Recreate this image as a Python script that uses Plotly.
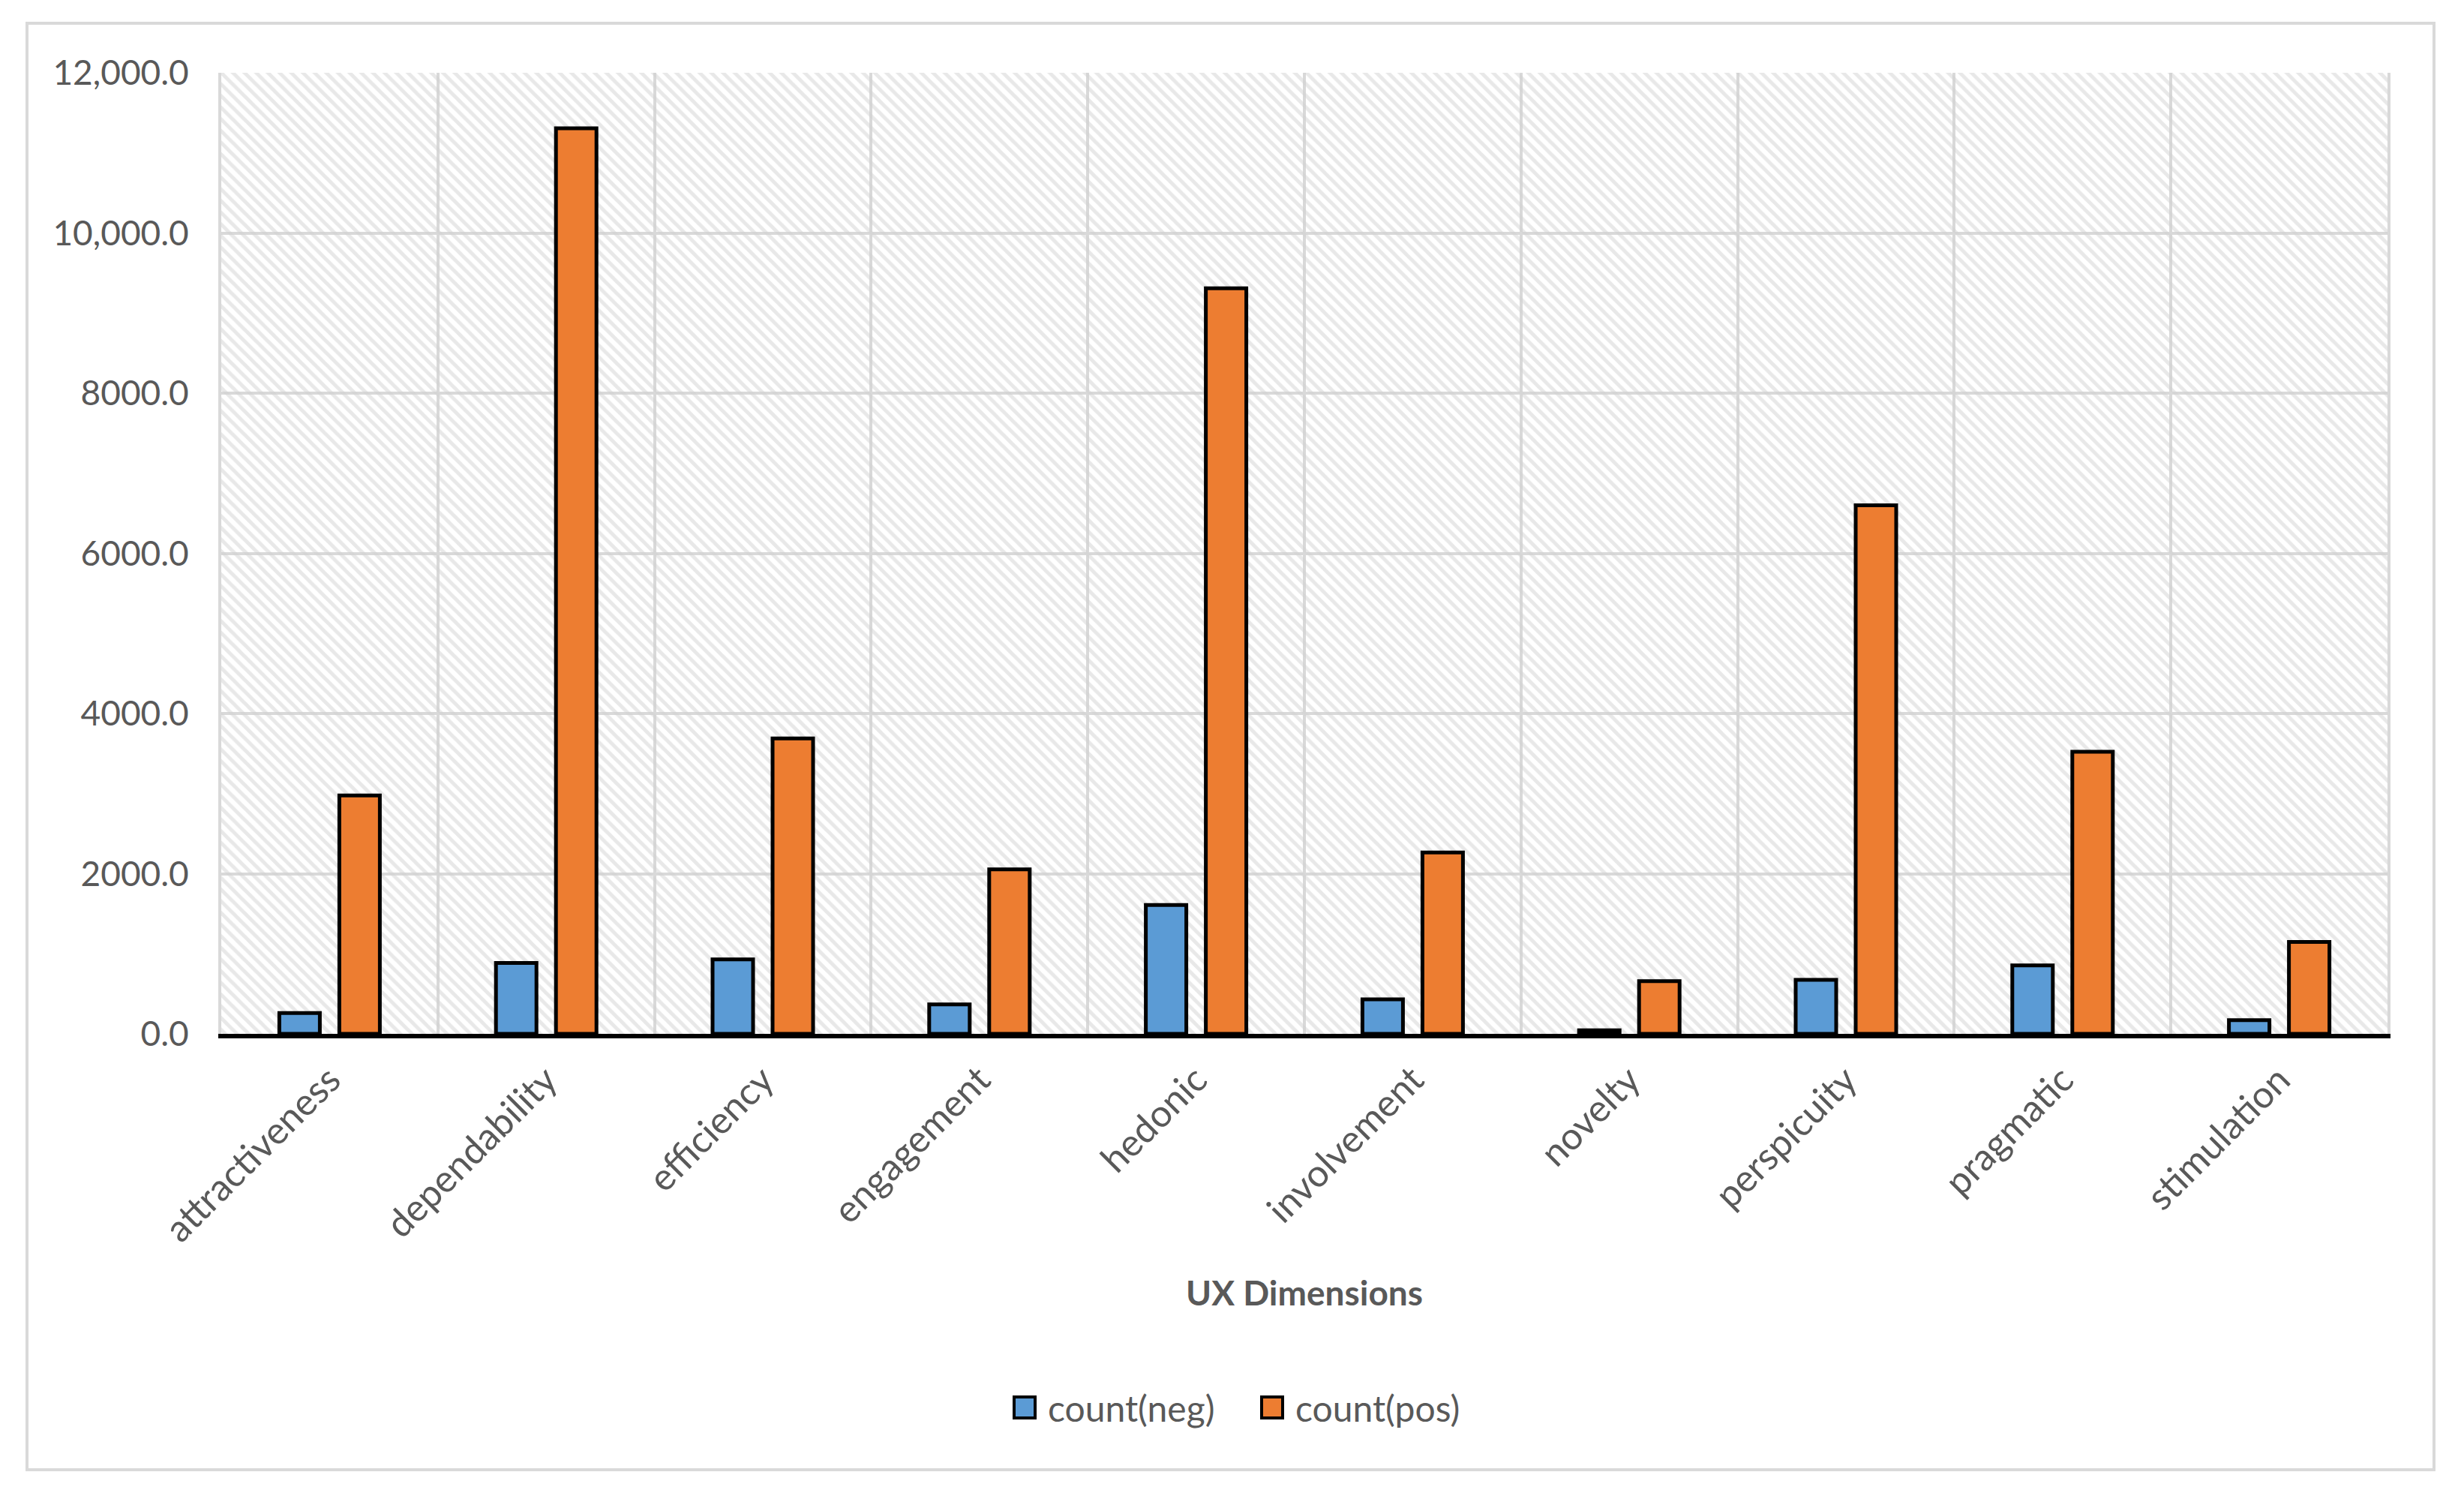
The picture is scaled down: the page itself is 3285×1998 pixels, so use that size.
import plotly.graph_objects as go

# ---- data ----
categories = ["attractiveness", "dependability", "efficiency", "engagement", "hedonic",
              "involvement", "novelty", "perspicuity", "pragmatic", "stimulation"]
count_neg = [260, 885, 930, 368, 1608, 432, 45, 675, 855, 170]
count_pos = [2976, 11306, 3689, 2055, 9310, 2264, 658, 6600, 3523, 1148]
series_names = ["count(neg)", "count(pos)"]
y_tick_values = [0, 2000, 4000, 6000, 8000, 10000, 12000]
y_tick_labels = ["0.0", "2000.0", "4000.0", "6000.0", "8000.0", "10,000.0", "12,000.0"]
x_title = "UX Dimensions"

# ---- style ----
OFF = 8                      # default page body margin
W, H = 3285 - OFF, 1998 - OFF
L, R, T, B = 295 - OFF, 102, 97 - OFF, 620
PW, PH = W - L - R, H - T - B
FONT = "Lato"
TXT = "#595959"
GRID = "#d9d9d9"
C_NEG = "#5B9BD5"
C_POS = "#ED7D31"


def px_x(px):
    """page pixel -> paper x"""
    return (px - OFF - L) / PW


def px_y(py):
    """page pixel -> paper y"""
    return (H - B - (py - OFF)) / PH


fig = go.Figure()

# hatched plot-area background (decoration on an invisible base subplot)
fig.add_trace(go.Bar(
    x=[0.5], y=[1], width=[1], xaxis="x", yaxis="y",
    marker=dict(color="rgba(0,0,0,0)", line=dict(width=0),
                pattern=dict(shape="\\", fgcolor="#d2d2d2", bgcolor="rgba(0,0,0,0)",
                             size=11, solidity=0.45, fillmode="overlay")),
    showlegend=False, hoverinfo="skip"))

colors = [C_NEG, C_POS]
for name, vals, col in zip(series_names, [count_neg, count_pos], colors):
    fig.add_trace(go.Bar(
        x=categories, y=vals, name=name, xaxis="x2", yaxis="y2",
        marker=dict(color=col, line=dict(color="black", width=5)),
        showlegend=False,
    ))

# legend drawn as shapes + text (large swatches as in the reference)
legend_sw_x = [1350, 1680]
legend_txt_x = [1395, 1725]
legend_cy = 1876
shapes = [dict(
    type="rect", xref="paper", yref="paper",
    x0=px_x(36), x1=px_x(3245), y0=px_y(1959), y1=px_y(31),
    line=dict(color=GRID, width=4), fillcolor="rgba(0,0,0,0)", layer="below",
)]
annotations = [dict(
    text="<b>" + x_title + "</b>", xref="paper", yref="paper",
    x=0.5, y=px_y(1722), xanchor="center", yanchor="middle",
    showarrow=False, font=dict(family=FONT, size=46, color=TXT),
)]
for name, col, sx, tx in zip(series_names, colors, legend_sw_x, legend_txt_x):
    shapes.append(dict(
        type="rect", xref="paper", yref="paper",
        x0=px_x(sx + 2), x1=px_x(sx + 30), y0=px_y(legend_cy + 14), y1=px_y(legend_cy - 14),
        line=dict(color="black", width=4), fillcolor=col, layer="above",
    ))
    annotations.append(dict(
        text=name, xref="paper", yref="paper", x=px_x(tx), y=px_y(legend_cy),
        xanchor="left", yanchor="middle", showarrow=False,
        font=dict(family=FONT, size=48, color=TXT),
    ))

fig.update_layout(
    width=W, height=H,
    margin=dict(l=L, r=R, t=T, b=B, autoexpand=False),
    paper_bgcolor="white", plot_bgcolor="white",
    font=dict(family=FONT, size=46, color=TXT),
    barmode="group", bargap=0.446, bargroupgap=0.325,
    showlegend=False,
    xaxis=dict(range=[0, 1], visible=False, fixedrange=True),
    yaxis=dict(range=[0, 1], visible=False, fixedrange=True),
    xaxis2=dict(
        overlaying="x", type="category", range=[-0.5, len(categories) - 0.5],
        tickson="boundaries", showgrid=True, gridcolor=GRID, gridwidth=4,
        showline=True, linecolor="black", linewidth=6,
        ticks="", tickangle=-45, ticklabelstandoff=6,
        tickfont=dict(family=FONT, size=50, color=TXT),
    ),
    yaxis2=dict(
        overlaying="y", range=[0, 12000], tickmode="array",
        tickvals=y_tick_values, ticktext=y_tick_labels,
        showgrid=True, gridcolor=GRID, gridwidth=4, zeroline=False,
        showline=True, linecolor=GRID, linewidth=4, mirror=True,
        ticks="", ticklabelstandoff=30,
        tickfont=dict(family=FONT, size=46, color=TXT),
    ),
    annotations=annotations,
    shapes=shapes,
)

fig.write_html("out.html")
